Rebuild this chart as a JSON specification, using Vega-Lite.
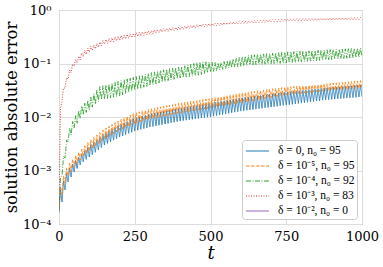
{
"$schema": "https://vega.github.io/schema/vega-lite/v6.json",
"width": 303, "height": 214,
"autosize": {"type": "none"},
"padding": {"left": 59, "top": 10, "right": 21, "bottom": 43},
"background": "white",
"config": {
 "view": {"stroke": "#808080", "strokeWidth": 1},
 "axis": {"grid": true, "gridColor": "#dddddd", "gridWidth": 1, "domain": false, "ticks": false, "labelColor": "black", "titleColor": "black", "labelFont": "DejaVu Serif", "titleFont": "DejaVu Serif", "titleFontWeight": "normal"},
 "legend": {"orient": "bottom-right", "offset": 5, "fillColor": "rgba(255,255,255,0.9)", "strokeColor": "#cccccc", "cornerRadius": 3, "padding": 2, "rowPadding": 0, "symbolType": "M-0.875,0H2", "symbolSize": 256, "symbolStrokeWidth": 1.5, "symbolOpacity": 0.65, "labelFont": "Liberation Serif", "labelFontSize": 11.5, "labelColor": "black", "labelOffset": 16, "labelLimit": 200}
},
"data": {"values": [
{"t":0,"b":1.67e-4,"o":2.26e-4,"g":1.83e-4,"r":1.83e-4},
{"t":5,"b":4.32e-4,"o":5.13e-4,"g":7.24e-4,"r":1.47e-2},
{"t":10,"b":2.58e-4,"o":3.64e-4,"g":8.24e-4,"r":1.99e-2},
{"t":15,"b":6.37e-4,"o":7.89e-4,"g":1.83e-3,"r":3.48e-2},
{"t":20,"b":4.32e-4,"o":5.83e-4,"g":1.71e-3,"r":3.48e-2},
{"t":25,"b":8.8e-4,"o":1.09e-3,"g":3.72e-3,"r":5.47e-2},
{"t":30,"b":6.10e-4,"o":7.89e-4,"g":3.41e-3,"r":5.13e-2},
{"t":35,"b":1.11e-3,"o":1.38e-3,"g":6.10e-3,"r":7.55e-2},
{"t":40,"b":7.56e-4,"o":9.57e-4,"g":4.61e-3,"r":6.79e-2},
{"t":45,"b":1.32e-3,"o":1.64e-3,"g":8.24e-3,"r":9.76e-2},
{"t":50,"b":9.38e-4,"o":1.16e-3,"g":6.22e-3,"r":8.98e-2},
{"t":55,"b":1.54e-3,"o":1.92e-3,"g":1.06e-2,"r":0.119},
{"t":60,"b":1.09e-3,"o":1.35e-3,"g":7.64e-3,"r":0.103},
{"t":65,"b":1.77e-3,"o":2.20e-3,"g":1.31e-2,"r":0.137},
{"t":70,"b":1.28e-3,"o":1.58e-3,"g":9.39e-3,"r":0.118},
{"t":75,"b":2.03e-3,"o":2.52e-3,"g":1.61e-2,"r":0.157},
{"t":80,"b":1.45e-3,"o":1.82e-3,"g":1.10e-2,"r":0.134},
{"t":85,"b":2.33e-3,"o":2.89e-3,"g":1.81e-2,"r":0.174},
{"t":90,"b":1.61e-3,"o":2.05e-3,"g":1.22e-2,"r":0.148},
{"t":95,"b":2.68e-3,"o":3.32e-3,"g":2.04e-2,"r":0.193},
{"t":100,"b":1.79e-3,"o":2.31e-3,"g":1.35e-2,"r":0.164},
{"t":105,"b":3.02e-3,"o":3.75e-3,"g":2.34e-2,"r":0.209},
{"t":110,"b":1.98e-3,"o":2.56e-3,"g":1.53e-2,"r":0.176},
{"t":115,"b":3.35e-3,"o":4.16e-3,"g":2.73e-2,"r":0.222},
{"t":120,"b":2.19e-3,"o":2.85e-3,"g":1.73e-2,"r":0.188},
{"t":125,"b":3.72e-3,"o":4.61e-3,"g":3.18e-2,"r":0.236},
{"t":130,"b":2.43e-3,"o":3.16e-3,"g":1.95e-2,"r":0.201},
{"t":135,"b":4.12e-3,"o":5.11e-3,"g":3.70e-2,"r":0.251},
{"t":140,"b":2.70e-3,"o":3.50e-3,"g":2.11e-2,"r":0.216},
{"t":145,"b":4.57e-3,"o":5.67e-3,"g":3.84e-2,"r":0.267},
{"t":150,"b":3.00e-3,"o":3.88e-3,"g":2.16e-2,"r":0.231},
{"t":155,"b":5.00e-3,"o":6.21e-3,"g":3.98e-2,"r":0.280},
{"t":160,"b":3.21e-3,"o":4.19e-3,"g":2.22e-2,"r":0.239},
{"t":165,"b":5.40e-3,"o":6.71e-3,"g":4.13e-2,"r":0.289},
{"t":170,"b":3.44e-3,"o":4.53e-3,"g":2.28e-2,"r":0.248},
{"t":175,"b":5.84e-3,"o":7.25e-3,"g":4.29e-2,"r":0.300},
{"t":180,"b":3.69e-3,"o":4.89e-3,"g":2.34e-2,"r":0.256},
{"t":185,"b":6.31e-3,"o":7.83e-3,"g":4.45e-2,"r":0.310},
{"t":190,"b":3.95e-3,"o":5.29e-3,"g":2.40e-2,"r":0.265},
{"t":195,"b":6.81e-3,"o":8.46e-3,"g":4.62e-2,"r":0.321},
{"t":200,"b":4.23e-3,"o":5.71e-3,"g":2.47e-2,"r":0.275},
{"t":205,"b":7.30e-3,"o":9.06e-3,"g":4.79e-2,"r":0.331},
{"t":210,"b":4.45e-3,"o":6.01e-3,"g":2.60e-2,"r":0.282},
{"t":215,"b":7.75e-3,"o":9.63e-3,"g":4.96e-2,"r":0.340},
{"t":220,"b":4.69e-3,"o":6.33e-3,"g":2.74e-2,"r":0.290},
{"t":225,"b":8.23e-3,"o":1.02e-2,"g":5.14e-2,"r":0.349},
{"t":230,"b":4.94e-3,"o":6.67e-3,"g":2.89e-2,"r":0.297},
{"t":235,"b":8.74e-3,"o":1.09e-2,"g":5.32e-2,"r":0.358},
{"t":240,"b":5.19e-3,"o":7.02e-3,"g":3.04e-2,"r":0.305},
{"t":245,"b":9.29e-3,"o":1.16e-2,"g":5.50e-2,"r":0.367},
{"t":250,"b":5.47e-3,"o":7.40e-3,"g":3.20e-2,"r":0.313},
{"t":255,"b":9.74e-3,"o":1.21e-2,"g":5.69e-2,"r":0.376},
{"t":260,"b":5.66e-3,"o":7.73e-3,"g":3.32e-2,"r":0.321},
{"t":265,"b":1.01e-2,"o":1.25e-2,"g":5.89e-2,"r":0.383},
{"t":270,"b":5.86e-3,"o":8.07e-3,"g":3.45e-2,"r":0.328},
{"t":275,"b":1.04e-2,"o":1.30e-2,"g":6.09e-2,"r":0.390},
{"t":280,"b":6.07e-3,"o":8.42e-3,"g":3.59e-2,"r":0.336},
{"t":285,"b":1.08e-2,"o":1.34e-2,"g":6.29e-2,"r":0.398},
{"t":290,"b":6.28e-3,"o":8.79e-3,"g":3.73e-2,"r":0.344},
{"t":295,"b":1.12e-2,"o":1.39e-2,"g":6.51e-2,"r":0.405},
{"t":300,"b":6.50e-3,"o":9.18e-3,"g":3.87e-2,"r":0.353},
{"t":305,"b":1.155e-2,"o":1.43e-2,"g":6.73e-2,"r":0.413},
{"t":310,"b":6.67e-3,"o":9.42e-3,"g":4.02e-2,"r":0.361},
{"t":315,"b":1.185e-2,"o":1.47e-2,"g":6.96e-2,"r":0.421},
{"t":320,"b":6.84e-3,"o":9.67e-3,"g":4.18e-2,"r":0.370},
{"t":325,"b":1.215e-2,"o":1.51e-2,"g":7.19e-2,"r":0.429},
{"t":330,"b":7.02e-3,"o":9.92e-3,"g":4.34e-2,"r":0.379},
{"t":335,"b":1.247e-2,"o":1.55e-2,"g":7.44e-2,"r":0.438},
{"t":340,"b":7.20e-3,"o":1.02e-2,"g":4.51e-2,"r":0.388},
{"t":345,"b":1.279e-2,"o":1.59e-2,"g":7.64e-2,"r":0.445},
{"t":350,"b":7.39e-3,"o":1.05e-2,"g":4.64e-2,"r":0.395},
{"t":355,"b":1.312e-2,"o":1.63e-2,"g":7.81e-2,"r":0.452},
{"t":360,"b":7.58e-3,"o":1.07e-2,"g":4.78e-2,"r":0.401},
{"t":365,"b":1.345e-2,"o":1.67e-2,"g":7.98e-2,"r":0.459},
{"t":370,"b":7.78e-3,"o":1.10e-2,"g":4.92e-2,"r":0.408},
{"t":375,"b":1.38e-2,"o":1.71e-2,"g":8.16e-2,"r":0.466},
{"t":380,"b":7.98e-3,"o":1.13e-2,"g":5.06e-2,"r":0.415},
{"t":385,"b":1.415e-2,"o":1.76e-2,"g":8.34e-2,"r":0.474},
{"t":390,"b":8.19e-3,"o":1.16e-2,"g":5.21e-2,"r":0.422},
{"t":395,"b":1.451e-2,"o":1.81e-2,"g":8.52e-2,"r":0.481},
{"t":400,"b":8.41e-3,"o":1.19e-2,"g":5.36e-2,"r":0.430},
{"t":405,"b":1.486e-2,"o":1.85e-2,"g":8.76e-2,"r":0.489},
{"t":410,"b":8.57e-3,"o":1.215e-2,"g":5.47e-2,"r":0.437},
{"t":415,"b":1.519e-2,"o":1.88e-2,"g":9.05e-2,"r":0.496},
{"t":420,"b":8.72e-3,"o":1.24e-2,"g":5.58e-2,"r":0.445},
{"t":425,"b":1.553e-2,"o":1.92e-2,"g":9.36e-2,"r":0.504},
{"t":430,"b":8.89e-3,"o":1.27e-2,"g":5.69e-2,"r":0.452},
{"t":435,"b":1.587e-2,"o":1.96e-2,"g":9.68e-2,"r":0.512},
{"t":440,"b":9.05e-3,"o":1.295e-2,"g":5.80e-2,"r":0.460},
{"t":445,"b":1.623e-2,"o":2.00e-2,"g":0.100,"r":0.520},
{"t":450,"b":9.22e-3,"o":1.32e-2,"g":5.92e-2,"r":0.468},
{"t":455,"b":1.659e-2,"o":2.035e-2,"g":0.1035,"r":0.528},
{"t":460,"b":9.39e-3,"o":1.35e-2,"g":6.04e-2,"r":0.476},
{"t":465,"b":1.695e-2,"o":2.075e-2,"g":0.107,"r":0.536},
{"t":470,"b":9.56e-3,"o":1.38e-2,"g":6.21e-2,"r":0.484},
{"t":475,"b":1.733e-2,"o":2.115e-2,"g":0.107,"r":0.541},
{"t":480,"b":9.74e-3,"o":1.41e-2,"g":6.44e-2,"r":0.489},
{"t":485,"b":1.772e-2,"o":2.156e-2,"g":0.107,"r":0.546},
{"t":490,"b":9.92e-3,"o":1.44e-2,"g":6.68e-2,"r":0.495},
{"t":495,"b":1.811e-2,"o":2.198e-2,"g":0.107,"r":0.552},
{"t":500,"b":1.01e-2,"o":1.47e-2,"g":6.93e-2,"r":0.500},
{"t":505,"b":1.849e-2,"o":2.246e-2,"g":0.106,"r":0.557},
{"t":510,"b":1.035e-2,"o":1.503e-2,"g":7.13e-2,"r":0.506},
{"t":515,"b":1.889e-2,"o":2.300e-2,"g":0.104,"r":0.562},
{"t":520,"b":1.061e-2,"o":1.536e-2,"g":7.35e-2,"r":0.511},
{"t":525,"b":1.929e-2,"o":2.355e-2,"g":0.103,"r":0.568},
{"t":530,"b":1.087e-2,"o":1.570e-2,"g":7.56e-2,"r":0.517},
{"t":535,"b":1.970e-2,"o":2.411e-2,"g":0.104,"r":0.573},
{"t":540,"b":1.114e-2,"o":1.605e-2,"g":7.78e-2,"r":0.523},
{"t":545,"b":2.012e-2,"o":2.469e-2,"g":0.109,"r":0.579},
{"t":550,"b":1.142e-2,"o":1.641e-2,"g":8.01e-2,"r":0.529},
{"t":555,"b":2.055e-2,"o":2.528e-2,"g":0.113,"r":0.584},
{"t":560,"b":1.170e-2,"o":1.677e-2,"g":8.24e-2,"r":0.535},
{"t":565,"b":2.098e-2,"o":2.588e-2,"g":0.118,"r":0.590},
{"t":570,"b":1.199e-2,"o":1.714e-2,"g":8.39e-2,"r":0.541},
{"t":575,"b":2.143e-2,"o":2.650e-2,"g":0.1215,"r":0.595},
{"t":580,"b":1.229e-2,"o":1.752e-2,"g":8.55e-2,"r":0.547},
{"t":585,"b":2.189e-2,"o":2.714e-2,"g":0.1253,"r":0.601},
{"t":590,"b":1.259e-2,"o":1.791e-2,"g":8.71e-2,"r":0.553},
{"t":595,"b":2.236e-2,"o":2.779e-2,"g":0.1293,"r":0.607},
{"t":600,"b":1.29e-2,"o":1.83e-2,"g":8.87e-2,"r":0.560},
{"t":605,"b":2.280e-2,"o":2.834e-2,"g":0.1333,"r":0.612},
{"t":610,"b":1.312e-2,"o":1.872e-2,"g":9.04e-2,"r":0.564},
{"t":615,"b":2.320e-2,"o":2.884e-2,"g":0.1375,"r":0.617},
{"t":620,"b":1.335e-2,"o":1.916e-2,"g":9.21e-2,"r":0.568},
{"t":625,"b":2.360e-2,"o":2.934e-2,"g":0.1418,"r":0.621},
{"t":630,"b":1.359e-2,"o":1.960e-2,"g":9.38e-2,"r":0.572},
{"t":635,"b":2.401e-2,"o":2.985e-2,"g":0.1448,"r":0.626},
{"t":640,"b":1.382e-2,"o":2.006e-2,"g":9.45e-2,"r":0.576},
{"t":645,"b":2.443e-2,"o":3.037e-2,"g":0.1463,"r":0.630},
{"t":650,"b":1.406e-2,"o":2.052e-2,"g":9.51e-2,"r":0.580},
{"t":655,"b":2.486e-2,"o":3.090e-2,"g":0.1479,"r":0.635},
{"t":660,"b":1.431e-2,"o":2.100e-2,"g":9.58e-2,"r":0.584},
{"t":665,"b":2.529e-2,"o":3.144e-2,"g":0.1495,"r":0.639},
{"t":670,"b":1.456e-2,"o":2.149e-2,"g":9.65e-2,"r":0.588},
{"t":675,"b":2.573e-2,"o":3.199e-2,"g":0.1512,"r":0.644},
{"t":680,"b":1.481e-2,"o":2.198e-2,"g":9.71e-2,"r":0.592},
{"t":685,"b":2.618e-2,"o":3.254e-2,"g":0.1528,"r":0.648},
{"t":690,"b":1.507e-2,"o":2.249e-2,"g":9.78e-2,"r":0.597},
{"t":695,"b":2.664e-2,"o":3.311e-2,"g":0.1545,"r":0.653},
{"t":700,"b":1.533e-2,"o":2.301e-2,"g":9.85e-2,"r":0.601},
{"t":705,"b":2.710e-2,"o":3.369e-2,"g":0.1562,"r":0.658},
{"t":710,"b":1.560e-2,"o":2.355e-2,"g":9.92e-2,"r":0.605},
{"t":715,"b":2.757e-2,"o":3.427e-2,"g":0.1579,"r":0.662},
{"t":720,"b":1.587e-2,"o":2.409e-2,"g":9.99e-2,"r":0.610},
{"t":725,"b":2.805e-2,"o":3.487e-2,"g":0.1596,"r":0.667},
{"t":730,"b":1.615e-2,"o":2.465e-2,"g":0.1006,"r":0.614},
{"t":735,"b":2.854e-2,"o":3.548e-2,"g":0.1613,"r":0.672},
{"t":740,"b":1.643e-2,"o":2.522e-2,"g":0.1013,"r":0.618},
{"t":745,"b":2.904e-2,"o":3.609e-2,"g":0.1631,"r":0.677},
{"t":750,"b":1.67e-2,"o":2.58e-2,"g":0.102,"r":0.623},
{"t":755,"b":2.950e-2,"o":3.659e-2,"g":0.1646,"r":0.680},
{"t":760,"b":1.70e-2,"o":2.615e-2,"g":0.1030,"r":0.625},
{"t":765,"b":2.991e-2,"o":3.697e-2,"g":0.1657,"r":0.682},
{"t":770,"b":1.73e-2,"o":2.651e-2,"g":0.1041,"r":0.626},
{"t":775,"b":3.033e-2,"o":3.735e-2,"g":0.1669,"r":0.684},
{"t":780,"b":1.76e-2,"o":2.688e-2,"g":0.1052,"r":0.628},
{"t":785,"b":3.075e-2,"o":3.774e-2,"g":0.1680,"r":0.686},
{"t":790,"b":1.79e-2,"o":2.725e-2,"g":0.1062,"r":0.629},
{"t":795,"b":3.117e-2,"o":3.813e-2,"g":0.1692,"r":0.688},
{"t":800,"b":1.82e-2,"o":2.762e-2,"g":0.1073,"r":0.631},
{"t":805,"b":3.160e-2,"o":3.852e-2,"g":0.1704,"r":0.689},
{"t":810,"b":1.85e-2,"o":2.800e-2,"g":0.1084,"r":0.633},
{"t":815,"b":3.204e-2,"o":3.892e-2,"g":0.1716,"r":0.691},
{"t":820,"b":1.89e-2,"o":2.839e-2,"g":0.1095,"r":0.634},
{"t":825,"b":3.249e-2,"o":3.932e-2,"g":0.1728,"r":0.693},
{"t":830,"b":1.92e-2,"o":2.878e-2,"g":0.1107,"r":0.636},
{"t":835,"b":3.294e-2,"o":3.973e-2,"g":0.1740,"r":0.695},
{"t":840,"b":1.95e-2,"o":2.917e-2,"g":0.1118,"r":0.637},
{"t":845,"b":3.340e-2,"o":4.014e-2,"g":0.1752,"r":0.697},
{"t":850,"b":1.99e-2,"o":2.957e-2,"g":0.1129,"r":0.639},
{"t":855,"b":3.386e-2,"o":4.056e-2,"g":0.1764,"r":0.698},
{"t":860,"b":2.02e-2,"o":2.998e-2,"g":0.1141,"r":0.641},
{"t":865,"b":3.433e-2,"o":4.098e-2,"g":0.1777,"r":0.700},
{"t":870,"b":2.06e-2,"o":3.039e-2,"g":0.1153,"r":0.642},
{"t":875,"b":3.48e-2,"o":4.14e-2,"g":0.179,"r":0.702},
{"t":880,"b":2.092e-2,"o":3.076e-2,"g":0.1166,"r":0.644},
{"t":885,"b":3.516e-2,"o":4.19e-2,"g":0.1802,"r":0.704},
{"t":890,"b":2.115e-2,"o":3.108e-2,"g":0.1178,"r":0.645},
{"t":895,"b":3.553e-2,"o":4.24e-2,"g":0.1815,"r":0.706},
{"t":900,"b":2.139e-2,"o":3.140e-2,"g":0.1190,"r":0.647},
{"t":905,"b":3.590e-2,"o":4.29e-2,"g":0.1827,"r":0.708},
{"t":910,"b":2.163e-2,"o":3.172e-2,"g":0.1203,"r":0.649},
{"t":915,"b":3.627e-2,"o":4.34e-2,"g":0.1840,"r":0.710},
{"t":920,"b":2.187e-2,"o":3.205e-2,"g":0.1215,"r":0.650},
{"t":925,"b":3.665e-2,"o":4.40e-2,"g":0.1852,"r":0.712},
{"t":930,"b":2.211e-2,"o":3.238e-2,"g":0.1228,"r":0.652},
{"t":935,"b":3.703e-2,"o":4.45e-2,"g":0.1865,"r":0.714},
{"t":940,"b":2.236e-2,"o":3.272e-2,"g":0.1241,"r":0.654},
{"t":945,"b":3.741e-2,"o":4.50e-2,"g":0.1878,"r":0.715},
{"t":950,"b":2.261e-2,"o":3.305e-2,"g":0.1254,"r":0.655},
{"t":955,"b":3.780e-2,"o":4.56e-2,"g":0.1891,"r":0.717},
{"t":960,"b":2.286e-2,"o":3.340e-2,"g":0.1267,"r":0.657},
{"t":965,"b":3.820e-2,"o":4.61e-2,"g":0.1904,"r":0.719},
{"t":970,"b":2.312e-2,"o":3.374e-2,"g":0.1280,"r":0.659},
{"t":975,"b":3.859e-2,"o":4.67e-2,"g":0.1917,"r":0.721},
{"t":980,"b":2.338e-2,"o":3.409e-2,"g":0.1293,"r":0.660},
{"t":985,"b":3.900e-2,"o":4.72e-2,"g":0.1930,"r":0.723},
{"t":990,"b":2.364e-2,"o":3.444e-2,"g":0.1307,"r":0.662},
{"t":995,"b":3.94e-2,"o":4.78e-2,"g":0.1943,"r":0.724},
{"t":1000,"b":2.39e-2,"o":3.48e-2,"g":0.132,"r":0.664}
]},
"transform": [{"fold": ["b", "o", "g", "r"], "as": ["k", "v"]}],
"encoding": {
 "x": {"field": "t", "type": "quantitative", "scale": {"domain": [0, 1000], "nice": false},
  "axis": {"values": [0, 250, 500, 750, 1000], "format": "d", "title": "t", "titleFontStyle": "italic", "titleFontSize": 18, "labelFontSize": 13, "labelPadding": 6, "titlePadding": 1, "labelFlush": false}},
 "y": {"field": "v", "type": "quantitative", "scale": {"type": "log", "domain": [0.0001, 1], "nice": false},
  "axis": {"values": [0.0001, 0.001, 0.01, 0.1, 1], "labelExpr": "datum.value > 0.5 ? '10⁰' : datum.value > 0.05 ? '10⁻¹' : datum.value > 0.005 ? '10⁻²' : datum.value > 0.0005 ? '10⁻³' : '10⁻⁴'", "title": "solution absolute error", "titleFontSize": 16.5, "labelFontSize": 13, "labelPadding": 8, "titlePadding": 3}}
},
"layer": [
 {"transform": [{"filter": "datum.k == 'b'"}],
  "mark": {"type": "line", "strokeWidth": 1, "strokeOpacity": 0.85, "clip": true},
  "encoding": {
   "color": {"datum": "δ = 0, n₀ = 95", "scale": {"domain": ["δ = 0, n₀ = 95", "δ = 10⁻⁵, n₀ = 95", "δ = 10⁻⁴, n₀ = 92", "δ = 10⁻³, n₀ = 83", "δ = 10⁻², n₀ = 0"], "range": ["#1f77b4", "#ff7f0e", "#2ca02c", "#d62728", "#9467bd"]}, "legend": {"title": null}},
   "strokeDash": {"datum": "δ = 0, n₀ = 95", "scale": {"domain": ["δ = 0, n₀ = 95", "δ = 10⁻⁵, n₀ = 95", "δ = 10⁻⁴, n₀ = 92", "δ = 10⁻³, n₀ = 83", "δ = 10⁻², n₀ = 0"], "range": [[1, 0], [3.5, 1.5], [5, 1.5, 1, 1.5], [1, 1.5], [1, 0]]}, "legend": {"title": null}}
  }},
 {"transform": [{"filter": "datum.k == 'o'"}],
  "mark": {"type": "line", "strokeWidth": 1, "strokeOpacity": 0.85, "clip": true},
  "encoding": {"color": {"datum": "δ = 10⁻⁵, n₀ = 95"}, "strokeDash": {"datum": "δ = 10⁻⁵, n₀ = 95"}}},
 {"transform": [{"filter": "datum.k == 'g'"}],
  "mark": {"type": "line", "strokeWidth": 1, "strokeOpacity": 0.85, "clip": true},
  "encoding": {"color": {"datum": "δ = 10⁻⁴, n₀ = 92"}, "strokeDash": {"datum": "δ = 10⁻⁴, n₀ = 92"}}},
 {"transform": [{"filter": "datum.k == 'r'"}],
  "mark": {"type": "line", "strokeWidth": 1, "strokeOpacity": 0.85, "clip": true},
  "encoding": {"color": {"datum": "δ = 10⁻³, n₀ = 83"}, "strokeDash": {"datum": "δ = 10⁻³, n₀ = 83"}}}
]
}
